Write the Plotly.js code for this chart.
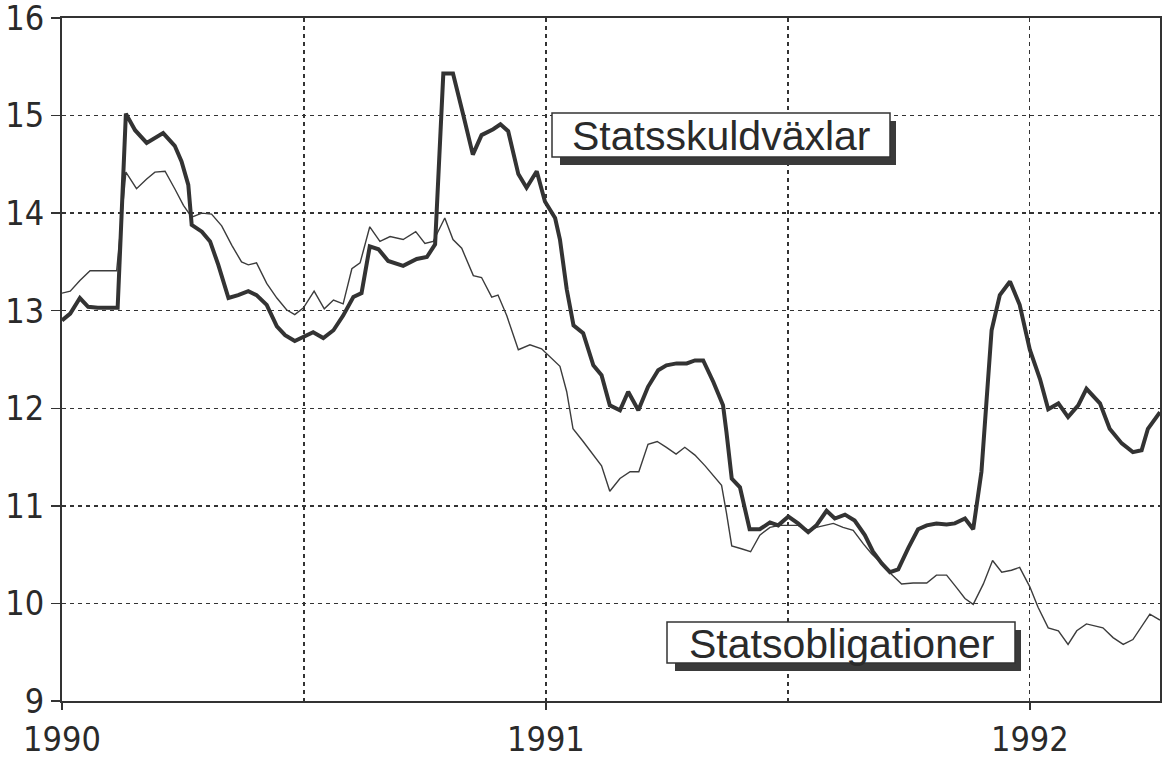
<!DOCTYPE html>
<html>
<head>
<meta charset="utf-8">
<script src="https://cdn.plot.ly/plotly-3.0.1.min.js"></script>
<style>html,body{margin:0;padding:0;background:#fff;}#chart{width:1162px;height:759px;}</style>
</head>
<body>
<div id="chart"></div>
<script>
// Statsskuldväxlar (thick line)
const vaxlarX = [1990.000,1990.017,1990.037,1990.054,1990.074,1990.110,1990.115,1990.132,1990.151,1990.175,1990.192,1990.209,1990.233,1990.247,1990.261,1990.268,1990.289,1990.306,1990.323,1990.344,1990.364,1990.385,1990.402,1990.423,1990.444,1990.461,1990.481,1990.499,1990.519,1990.540,1990.561,1990.581,1990.592,1990.602,1990.619,1990.636,1990.654,1990.674,1990.705,1990.733,1990.754,1990.771,1990.788,1990.808,1990.829,1990.849,1990.867,1990.891,1990.906,1990.922,1990.943,1990.960,1990.981,1990.998,1991.019,1991.029,1991.043,1991.057,1991.077,1991.098,1991.115,1991.132,1991.153,1991.170,1991.191,1991.211,1991.232,1991.249,1991.270,1991.291,1991.308,1991.325,1991.346,1991.366,1991.373,1991.384,1991.401,1991.421,1991.442,1991.463,1991.480,1991.501,1991.521,1991.542,1991.559,1991.580,1991.597,1991.618,1991.638,1991.659,1991.676,1991.694,1991.711,1991.728,1991.749,1991.769,1991.787,1991.807,1991.828,1991.845,1991.866,1991.883,1991.900,1991.911,1991.921,1991.938,1991.959,1991.979,1992.000,1992.021,1992.038,1992.059,1992.079,1992.100,1992.117,1992.145,1992.165,1992.190,1992.213,1992.231,1992.244,1992.269];
const vaxlarY = [12.90,12.97,13.13,13.04,13.03,13.03,13.03,15.02,14.85,14.72,14.77,14.82,14.69,14.53,14.29,13.88,13.81,13.71,13.47,13.13,13.16,13.20,13.16,13.06,12.84,12.75,12.69,12.73,12.78,12.72,12.80,12.95,13.06,13.14,13.18,13.66,13.63,13.51,13.46,13.53,13.55,13.68,15.43,15.43,15.01,14.60,14.80,14.86,14.91,14.84,14.40,14.26,14.43,14.12,13.95,13.73,13.22,12.85,12.77,12.44,12.34,12.03,11.98,12.17,11.98,12.22,12.39,12.44,12.46,12.46,12.49,12.49,12.27,12.03,11.76,11.28,11.19,10.76,10.76,10.83,10.80,10.89,10.82,10.73,10.80,10.95,10.87,10.91,10.85,10.70,10.53,10.41,10.32,10.35,10.57,10.76,10.80,10.82,10.81,10.82,10.87,10.76,11.35,12.07,12.80,13.16,13.30,13.06,12.60,12.30,11.99,12.05,11.91,12.03,12.20,12.05,11.79,11.64,11.55,11.57,11.79,11.96];

// Statsobligationer (thin line)
const obligX = [1990.000,1990.017,1990.037,1990.058,1990.113,1990.132,1990.154,1990.175,1990.192,1990.213,1990.233,1990.251,1990.268,1990.289,1990.309,1990.330,1990.351,1990.371,1990.385,1990.402,1990.423,1990.444,1990.464,1990.481,1990.499,1990.521,1990.542,1990.561,1990.581,1990.599,1990.616,1990.636,1990.657,1990.678,1990.705,1990.731,1990.750,1990.767,1990.791,1990.808,1990.826,1990.850,1990.867,1990.888,1990.901,1990.919,1990.943,1990.967,1990.991,1991.012,1991.029,1991.043,1991.056,1991.077,1991.098,1991.115,1991.132,1991.153,1991.174,1991.192,1991.211,1991.230,1991.249,1991.269,1991.287,1991.308,1991.329,1991.346,1991.363,1991.373,1991.384,1991.404,1991.423,1991.442,1991.463,1991.483,1991.504,1991.521,1991.542,1991.559,1991.594,1991.614,1991.635,1991.656,1991.673,1991.694,1991.714,1991.735,1991.759,1991.787,1991.807,1991.828,1991.849,1991.866,1991.883,1991.904,1991.923,1991.942,1991.962,1991.979,1992.000,1992.017,1992.038,1992.059,1992.079,1992.097,1992.117,1992.151,1992.172,1992.193,1992.213,1992.231,1992.248,1992.269];
const obligY = [13.18,13.20,13.31,13.41,13.41,14.42,14.25,14.35,14.42,14.43,14.25,14.08,13.96,14.00,13.99,13.87,13.67,13.50,13.47,13.49,13.28,13.13,13.01,12.96,13.03,13.20,13.02,13.11,13.07,13.43,13.49,13.86,13.71,13.76,13.73,13.81,13.69,13.71,13.95,13.73,13.64,13.36,13.34,13.14,13.16,12.95,12.60,12.65,12.61,12.51,12.43,12.17,11.79,11.66,11.52,11.41,11.15,11.28,11.35,11.35,11.63,11.66,11.60,11.53,11.60,11.52,11.41,11.31,11.21,10.93,10.59,10.56,10.53,10.70,10.78,10.80,10.80,10.80,10.75,10.78,10.82,10.78,10.75,10.61,10.51,10.41,10.30,10.20,10.21,10.21,10.29,10.29,10.16,10.05,9.99,10.20,10.44,10.32,10.34,10.37,10.17,9.96,9.75,9.72,9.58,9.72,9.79,9.75,9.65,9.58,9.63,9.77,9.89,9.83];

const yearTicks = [1990, 1991, 1992];
const yearLabels = ['1990', '1991', '1992'];
const halfYearGrid = [1990.5, 1991.5];
const yTicks = [9, 10, 11, 12, 13, 14, 15, 16];
const seriesNames = ['Statsskuldväxlar', 'Statsobligationer'];

// layout helpers (pixel -> paper)
const M = {l: 62, r: 2, t: 18, b: 58};
const W = 1162, H = 759;
const pw = W - M.l - M.r, ph = H - M.t - M.b;
const px = v => (v - M.l) / pw;
const py = v => (H - M.b - v) / ph;

function labelBox(x0, y0, x1, y1, text) {
  const off = 8;
  return {
    shapes: [
      {type: 'rect', xref: 'paper', yref: 'paper', layer: 'above',
       x0: px(x0 + off), x1: px(x1 + off - 2), y0: py(y1 + off), y1: py(y0 + off),
       fillcolor: '#3a3a3a', line: {width: 0}},
      {type: 'rect', xref: 'paper', yref: 'paper', layer: 'above',
       x0: px(x0), x1: px(x1), y0: py(y1), y1: py(y0),
       fillcolor: '#ffffff', line: {color: '#333', width: 1.5}}
    ],
    ann: {xref: 'paper', yref: 'paper', x: px((x0 + x1) / 2), y: py((y0 + y1) / 2 + 1),
          xanchor: 'center', yanchor: 'middle', showarrow: false, text: text,
          font: {family: 'Liberation Sans, Arial, sans-serif', size: 41, color: '#2a2a2a'}}
  };
}
const b1 = labelBox(552, 113, 890, 157, seriesNames[0]);
const b2 = labelBox(667, 622, 1015, 663, seriesNames[1]);

const tickFont = {family: 'DejaVu Sans Condensed, Liberation Sans Narrow, Arial Narrow, sans-serif', size: 34, color: '#2a2a2a'};

const traces = [
  {x: obligX, y: obligY, type: 'scatter', mode: 'lines', name: seriesNames[1],
   line: {color: '#3c3c3c', width: 1.4}},
  {x: vaxlarX, y: vaxlarY, type: 'scatter', mode: 'lines', name: seriesNames[0],
   line: {color: '#333333', width: 4}}
];

const layout = {
  width: W, height: H,
  margin: M,
  paper_bgcolor: '#ffffff', plot_bgcolor: '#ffffff',
  showlegend: false,
  xaxis: {
    range: [1990, 1992.269], tickmode: 'array', tickvals: yearTicks, ticktext: yearLabels,
    showgrid: true, gridcolor: '#333', gridwidth: 1.3, griddash: '4px,4px',
    minor: {tickmode: 'array', tickvals: halfYearGrid, showgrid: true, gridcolor: '#333', gridwidth: 1.3, griddash: '4px,4px', ticks: ''},
    ticks: 'outside', ticklen: 7, tickwidth: 1.5, tickcolor: '#333',
    showline: true, linecolor: '#333', linewidth: 2, mirror: true,
    zeroline: false, tickfont: tickFont, ticklabeloverflow: 'allow'
  },
  yaxis: {
    range: [9, 16], tickmode: 'array', tickvals: yTicks,
    showgrid: true, gridcolor: '#333', gridwidth: 1.3, griddash: '4px,4px',
    ticks: 'outside', ticklen: 9, tickwidth: 1.5, tickcolor: '#333',
    showline: true, linecolor: '#333', linewidth: 2, mirror: true,
    zeroline: false, tickfont: tickFont, ticklabeloverflow: 'allow'
  },
  shapes: [...b1.shapes, ...b2.shapes],
  annotations: [b1.ann, b2.ann]
};

Plotly.newPlot('chart', traces, layout, {displayModeBar: false, staticPlot: true});
</script>
</body>
</html>
